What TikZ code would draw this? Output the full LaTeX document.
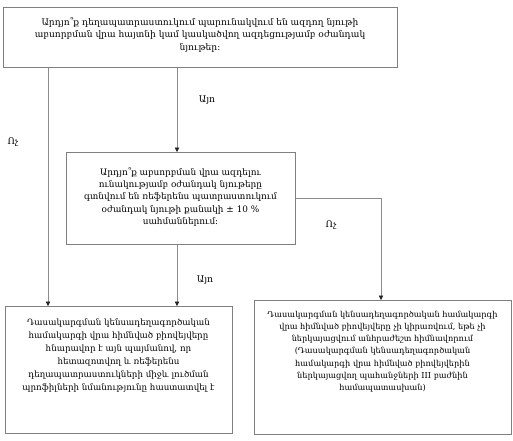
\documentclass[tikz,border=0pt]{standalone}
\usepackage{fontspec}
\setmainfont{DejaVu Serif}
\usetikzlibrary{arrows.meta}
\begin{document}
\begin{tikzpicture}[x=1pt,y=-1pt,
  box/.style={draw=black!50,line width=0.7pt,inner sep=0pt,anchor=north west},
  txt/.style={align=center,inner sep=0pt,font=\fontsize{9.1}{12.2}\selectfont},
  lbl/.style={inner sep=0pt,font=\fontsize{9.2}{10}\selectfont},
  arr/.style={draw=black!45,line width=0.6pt,-{Triangle[length=4.5pt,width=4.5pt,fill=black!85,color=black!85]}}]
\useasboundingbox (0,0) rectangle (513,440);
\node[box,minimum width=394pt,minimum height=60pt] (b1) at (3,7) {};
\node[box,minimum width=229pt,minimum height=92pt] (b2) at (66,152) {};
\node[box,minimum width=227pt,minimum height=127pt] (b3) at (5,306) {};
\node[box,minimum width=257pt,minimum height=134pt] (b4) at (254,300) {};
\node[txt] (t1) at (200,35) {Արդյո՞ք դեղապատրաստուկում պարունակվում են ազդող նյութի\\աբսորբման վրա  հայտնի կամ կասկածվող ազդեցությամբ օժանդակ\\նյութեր:};
\node[txt,font=\fontsize{8.9}{12.2}\selectfont] (t2) at (180.5,197) {Արդյո՞ք աբսորբման վրա ազդելու\\ունակությամբ օժանդակ նյութերը\\գտնվում են ռեֆերենս պատրաստուկում\\օժանդակ նյութի քանակի ± 10 \%\\սահմաններում:};
\node[txt,font=\fontsize{8.7}{13}\selectfont] (t3) at (118.5,355.5) {Դասակարգման կենսադեղագործական\\համակարգի վրա հիմնված բիովեյվերը\\հնարավոր է այն պայմանով, որ\\հետազոտվող և ռեֆերենս\\դեղապատրաստուկների միջև լուծման\\պրոֆիլների նմանությունը հաստատվել է};
\node[txt,font=\fontsize{8.2}{12.2}\selectfont] (t4) at (382.5,351.5) {Դասակարգման կենսադեղագործական համակարգի\\վրա հիմնված բիովեյվերը չի կիրառվում, եթե չի\\ներկայացվում անհրաժեշտ հիմնավորում\\(Դասակարգման կենսադեղագործական\\համակարգի վրա հիմնված բիովեյվերին\\ներկայացվող պահանջների III բաժնին\\համապատասխան)};
\coordinate (xl) at (48,0);
\coordinate (xm) at (177,0);
\coordinate (xr) at (381,0);
\draw[arr] (b1.south -| xl) -- (b3.north -| xl);
\draw[arr] (b1.south -| xm) -- (b2.north -| xm);
\draw[arr] (b2.south -| xm) -- (b3.north -| xm);
\draw[arr] (b2.east) -- (b2.east -| xr) -- (b4.north -| xr);
\node[lbl] (l1) at (207,100) {Այո};
\node[lbl] (l2) at (205,280) {Այո};
\node[lbl] (l3) at (13,142) {Ոչ};
\node[lbl] (l4) at (331,225) {Ոչ};
\end{tikzpicture}
\end{document}
